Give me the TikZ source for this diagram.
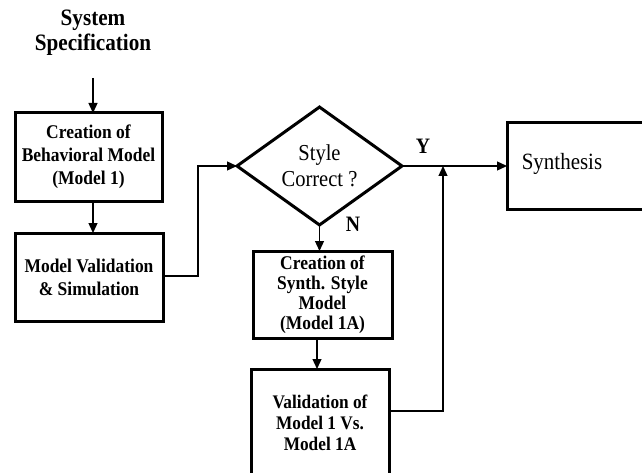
\documentclass[tikz,border=0pt]{standalone}
\usepackage{fontspec}
\setmainfont{Liberation Serif}[FakeStretch=0.9]
\usetikzlibrary{arrows.meta,shapes.geometric}
\begin{document}
\begin{tikzpicture}[x=1pt,y=-1pt,
  box/.style={draw, line width=3pt, inner sep=0pt, outer sep=0pt, align=center,
    font=\bfseries\fontsize{19.4}{23}\selectfont},
  conn/.style={line width=1.3pt},
  arr/.style={conn, -{Triangle[length=10pt,width=9pt]}},
  lbl/.style={font=\bfseries\fontsize{22}{26}\selectfont, inner sep=0pt}]
\useasboundingbox (0,0) rectangle (642,473);
\node[font=\bfseries\fontsize{23.5}{25}\selectfont, align=center, inner sep=0pt] (spec) at (93,33) {System\\Specification};
\node[box, minimum width=147pt, minimum height=88pt] (b1) at (88.5,157) {Creation of\\Behavioral Model\\(Model 1)};
\node[box, minimum width=148pt, minimum height=88pt] (b2) at (89,277) {Model Validation\\\& Simulation};
\node[draw, diamond, line width=3pt, inner sep=0pt, outer sep=0pt, minimum width=165pt, minimum height=99pt, align=center,
  font=\fontsize{22.8}{26}\selectfont] (dia) at (319.5,166) {Style\\Correct ?};
\node[box, minimum width=139pt, minimum height=87pt, font=\bfseries\fontsize{19.4}{20}\selectfont] (b3) at (322.5,294.5) {Creation of\\Synth. Style\\Model\\(Model 1A)};
\node[box, minimum width=138pt, minimum height=108pt, font=\bfseries\fontsize{19.2}{21}\selectfont] (b4) at (320,423) {Validation of\\Model 1 Vs.\\Model 1A};
\node[box, minimum width=153pt, minimum height=87pt] (syn) at (583.5,166) {};
\node[font=\fontsize{23.3}{25}\selectfont, inner sep=0pt] (syntext) at (562,164) {Synthesis};
\node[lbl] (ylbl) at (423,146) {Y};
\node[lbl] (nlbl) at (353,224) {N};
\coordinate (s1) at (93,78);
\coordinate (k1) at (198,276);
\coordinate (k2) at (443,411);
\draw[arr] (s1) -- (s1 |- b1.north);
\draw[arr] (b1.south -| s1) -- (b2.north -| s1);
\draw[arr] (b2.east |- k1) -- (k1) |- (dia.west);
\draw[arr] (dia.east) -- (syn.west);
\draw[arr] (dia.south) -- (dia.south |- b3.north);
\draw[arr] (b3.south -| 317,0) -- (b4.north -| 317,0);
\draw[arr] (b4.east |- k2) -- (k2) -- (k2 |- dia.east);
\end{tikzpicture}
\end{document}
